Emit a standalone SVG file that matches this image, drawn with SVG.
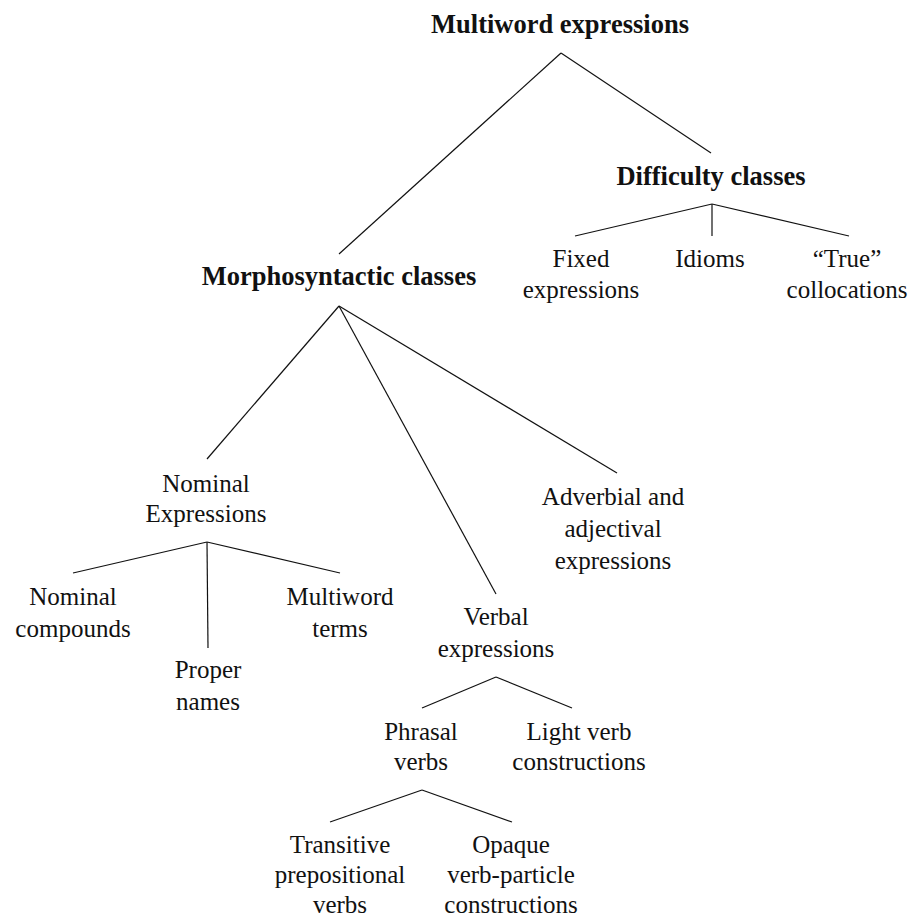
<svg xmlns="http://www.w3.org/2000/svg" width="915" height="918" viewBox="0 0 915 918">
<style>
text{font-family:"Liberation Serif","DejaVu Serif",serif;font-size:25px;fill:#111;text-anchor:middle}
.b{font-weight:bold;font-size:26.5px}
.e line{stroke:#111;stroke-width:1.2}
</style>
<rect width="915" height="918" fill="#fff"/>
<g class="e" id="connectors">
<line x1="561" y1="53" x2="339" y2="254"/>
<line x1="561" y1="53" x2="711" y2="153"/>
<line x1="712" y1="204" x2="575" y2="236"/>
<line x1="712" y1="204" x2="712" y2="236"/>
<line x1="712" y1="204" x2="849" y2="236"/>
<line x1="339" y1="306" x2="207" y2="459"/>
<line x1="339" y1="306" x2="496" y2="594"/>
<line x1="339" y1="306" x2="617" y2="473"/>
<line x1="207" y1="542" x2="73" y2="573"/>
<line x1="207" y1="542" x2="208" y2="648"/>
<line x1="207" y1="542" x2="340" y2="573"/>
<line x1="496" y1="677" x2="422" y2="708"/>
<line x1="496" y1="677" x2="572" y2="708"/>
<line x1="422" y1="790" x2="330" y2="822"/>
<line x1="422" y1="790" x2="512" y2="822"/>
</g>
<g id="mwe"><text class="b" x="560" y="33">Multiword expressions</text></g>
<g id="difficulty"><text class="b" x="711" y="185">Difficulty classes</text></g>
<g id="fixed"><text x="581" y="267">Fixed</text><text x="581" y="298">expressions</text></g>
<g id="idioms"><text x="710" y="267">Idioms</text></g>
<g id="true"><text x="847" y="267">“True”</text><text x="847" y="298">collocations</text></g>
<g id="morpho"><text class="b" x="339" y="285">Morphosyntactic classes</text></g>
<g id="nominal"><text x="206" y="492">Nominal</text><text x="206" y="522">Expressions</text></g>
<g id="adverbial"><text x="613" y="505">Adverbial and</text><text x="613" y="537">adjectival</text><text x="613" y="569">expressions</text></g>
<g id="nomcomp"><text x="73" y="605">Nominal</text><text x="73" y="637">compounds</text></g>
<g id="proper"><text x="208" y="678">Proper</text><text x="208" y="710">names</text></g>
<g id="multiterm"><text x="340" y="605">Multiword</text><text x="340" y="637">terms</text></g>
<g id="verbal"><text x="496" y="625">Verbal</text><text x="496" y="657">expressions</text></g>
<g id="phrasal"><text x="421" y="740">Phrasal</text><text x="421" y="770">verbs</text></g>
<g id="light"><text x="579" y="740">Light verb</text><text x="579" y="770">constructions</text></g>
<g id="transitive"><text x="340" y="853">Transitive</text><text x="340" y="883">prepositional</text><text x="340" y="913">verbs</text></g>
<g id="opaque"><text x="511" y="853">Opaque</text><text x="511" y="883">verb-particle</text><text x="511" y="913">constructions</text></g>
</svg>
